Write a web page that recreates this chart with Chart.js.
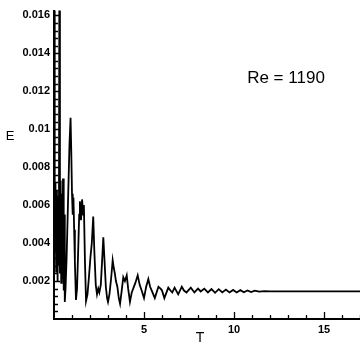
<!DOCTYPE html>
<html>
<head>
<meta charset="utf-8">
<script src="https://cdn.jsdelivr.net/npm/chart.js@4"></script>
<style>
html,body{margin:0;padding:0;background:#fff;}
#wrap{width:360px;height:348px;position:relative;}
</style>
</head>
<body>
<div id="wrap"><canvas id="c" width="360" height="348"></canvas></div>
<script>
// Time values (T)
const timeT = [
  0, 0.04, 0.08, 0.12, 0.16, 0.2, 0.24, 0.27, 0.3, 0.33, 0.37, 0.4, 0.43, 0.46, 0.5, 0.54, 0.57, 0.6, 0.64,
  0.7, 0.78, 0.86, 0.92, 0.96, 1.0, 1.04, 1.08, 1.12, 1.16, 1.22, 1.28, 1.34, 1.4, 1.44, 1.5, 1.56, 1.62,
  1.66, 1.72, 1.78, 1.86, 1.94, 2.02, 2.1, 2.18, 2.24, 2.32, 2.39, 2.46, 2.52, 2.6, 2.68, 2.74, 2.8, 2.88,
  2.95, 3.0, 3.08, 3.18, 3.26, 3.32, 3.38, 3.44, 3.52, 3.6, 3.67, 3.75, 3.85, 3.94, 4.04, 4.12, 4.22, 4.32,
  4.4, 4.52, 4.65, 4.76, 4.87, 5.0, 5.12, 5.24, 5.34, 5.43, 5.6, 5.8, 5.92, 6.0, 6.13, 6.35, 6.47, 6.57,
  6.7, 6.9, 7.1, 7.22, 7.36, 7.6, 7.8, 8.0, 8.15, 8.35, 8.55, 8.75, 8.95, 9.15, 9.35, 9.55, 9.75, 9.95,
  10.15, 10.35, 10.55, 10.75, 10.95, 11.15, 11.4, 11.7, 12.0, 17.1
];
// Energy values (E)
const energyE = [
  0.02, 0.0035, 0.0072, 0.0025, 0.0068, 0.002, 0.0065, 0.0028, 0.019, 0.0024, 0.0073, 0.0019, 0.0066, 0.0021, 0.0074, 0.0015, 0.0055, 0.0009, 0.0016,
  0.0032, 0.0062, 0.0092, 0.0106, 0.0088, 0.0066, 0.0055, 0.0064, 0.0047, 0.0030, 0.0010, 0.0016, 0.0035, 0.0055, 0.0062, 0.0052, 0.0063, 0.0055,
  0.0060, 0.0030, 0.00095, 0.0013, 0.0022, 0.0032, 0.0040, 0.0054, 0.0036, 0.0018, 0.0013, 0.0016, 0.0014, 0.0018, 0.0032, 0.0043, 0.0032, 0.0017,
  0.0011, 0.0009, 0.0013, 0.0022, 0.0031, 0.0027, 0.0024, 0.0020, 0.0017, 0.0011, 0.0008, 0.0014, 0.0022, 0.0020, 0.0023, 0.0016, 0.0009, 0.0014,
  0.0016, 0.0019, 0.0023, 0.0018, 0.0015, 0.0011, 0.0017, 0.0021, 0.0017, 0.0015, 0.0011, 0.0017, 0.0016, 0.0015, 0.0011, 0.00165, 0.0015, 0.0014,
  0.00165, 0.0013, 0.0017, 0.0015, 0.0014, 0.00165, 0.0014, 0.0016, 0.00145, 0.0016, 0.0014, 0.00158, 0.00138, 0.00157, 0.0014, 0.00155, 0.0014, 0.00153,
  0.0014, 0.00152, 0.00141, 0.0015, 0.00142, 0.00149, 0.00144, 0.00147, 0.00146, 0.00146
];
const xTickLabels = ['5', '10', '15'];
const yTickLabels = ['0.002', '0.004', '0.006', '0.008', '0.01', '0.012', '0.014', '0.016'];
const annotationText = 'Re = 1190';

const points = timeT.map((t, i) => ({x: t, y: energyE[i]}));

const decor = {
  id: 'decor',
  afterDatasetsDraw(chart) {
    const {ctx, chartArea: a, scales: {x, y}} = chart;
    ctx.save();
    ctx.strokeStyle = '#000';
    ctx.lineWidth = 1.3;
    ctx.beginPath();
    for (let k = 1; k <= 41; k++) {
      const v = k * 0.0004;
      const py = Math.round(y.getPixelForValue(v)) + 0.5;
      if (py < a.top) break;
      const major = k % 5 === 0;
      ctx.moveTo(a.left, py);
      ctx.lineTo(a.left + (major ? 6 : 4), py);
    }
    for (let v = 1; v <= 17; v += 1) {
      const px = Math.round(x.getPixelForValue(v)) + 0.5;
      const major = v % 5 === 0;
      ctx.moveTo(px, a.bottom);
      ctx.lineTo(px, a.bottom - (major ? 7 : 4));
    }
    ctx.stroke();
    ctx.fillStyle = '#000';
    ctx.textAlign = 'center';
    ctx.textBaseline = 'middle';
    ctx.font = '17px "Liberation Sans", Arial, sans-serif';
    ctx.fillText(annotationText, 286, 78);
    ctx.font = '14px "Liberation Sans", Arial, sans-serif';
    ctx.fillText('T', 200, 338);
    ctx.font = '13px "Liberation Sans", Arial, sans-serif';
    ctx.fillText('E', 10, 136);
    ctx.restore();
  }
};

new Chart(document.getElementById('c'), {
  type: 'scatter',
  data: {
    datasets: [{
      data: points,
      showLine: true,
      borderColor: '#000',
      borderWidth: 1.8,
      pointRadius: 0,
      tension: 0,
      fill: false
    }]
  },
  options: {
    responsive: false,
    animation: false,
    events: [],
    layout: {padding: {top: 0, right: 0, left: 0, bottom: 0}},
    plugins: {legend: {display: false}, tooltip: {enabled: false}},
    scales: {
      x: {
        type: 'linear',
        min: 0,
        max: 17,
        afterFit(s) { s.height = 29; },
        grid: {display: false, drawTicks: false},
        border: {display: true, color: '#000', width: 2},
        ticks: {
          stepSize: 5,
          padding: 4,
          includeBounds: false,
          color: '#000',
          font: {family: '"Liberation Sans", Arial, sans-serif', size: 11, weight: 'bold'},
          callback: v => { const i = [5, 10, 15].indexOf(v); return i >= 0 ? xTickLabels[i] : ''; }
        }
      },
      y: {
        min: 0,
        max: 0.01625,
        afterFit(s) { s.width = 54; },
        grid: {display: false, drawTicks: false},
        border: {display: true, color: '#000', width: 2},
        ticks: {
          stepSize: 0.002,
          padding: 4,
          includeBounds: false,
          autoSkip: false,
          color: '#000',
          font: {family: '"Liberation Sans", Arial, sans-serif', size: 11, weight: 'bold'},
          callback: v => { const i = Math.round(v / 0.002) - 1; return (i >= 0 && i < yTickLabels.length && Math.abs(v / 0.002 - i - 1) < 1e-6) ? yTickLabels[i] : ''; }
        }
      }
    }
  },
  plugins: [decor]
});
</script>
</body>
</html>
